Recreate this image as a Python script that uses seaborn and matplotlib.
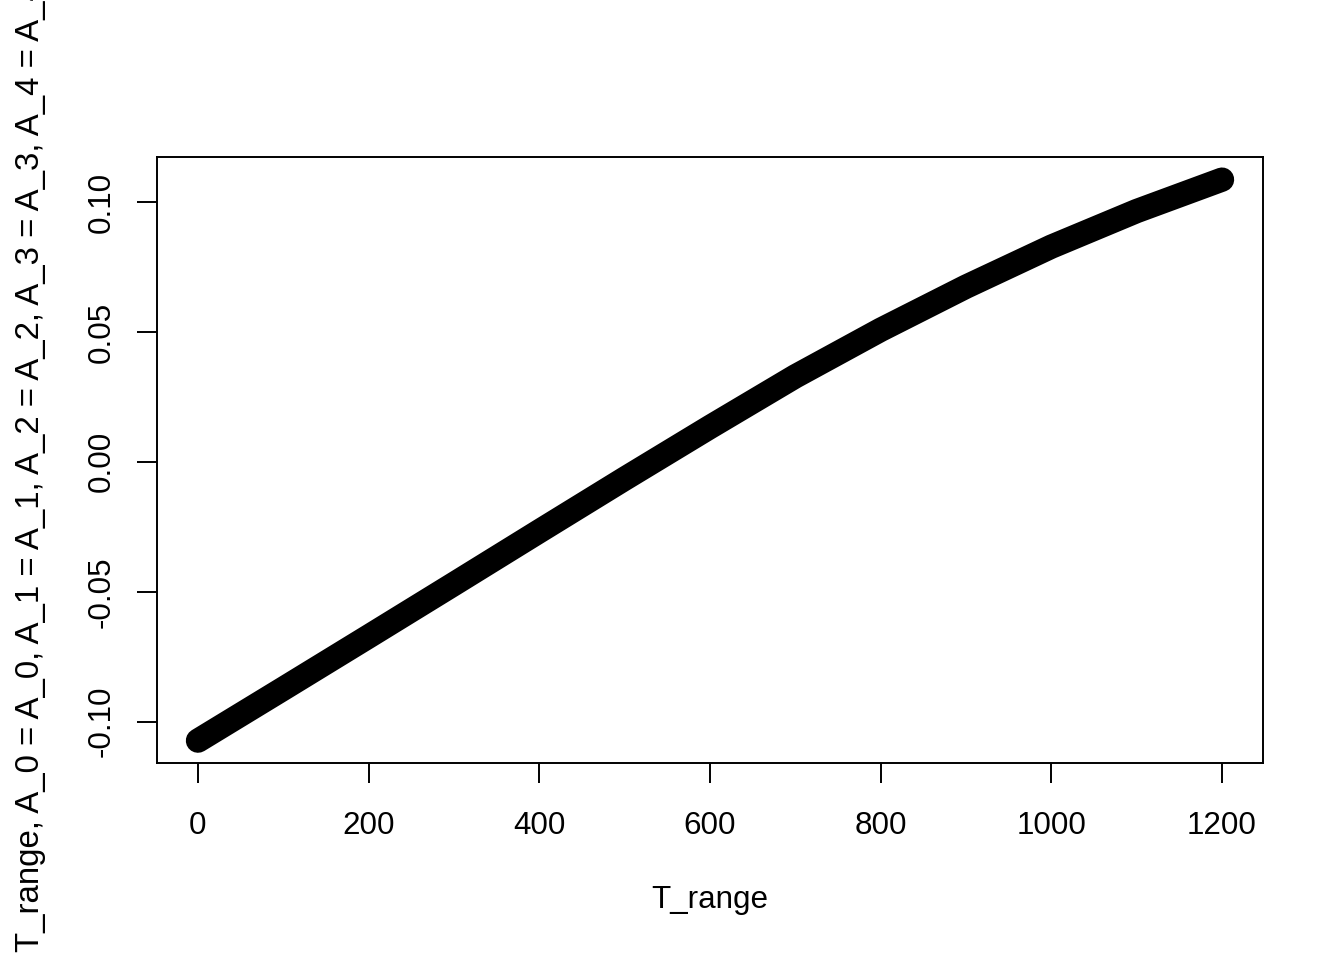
import matplotlib
matplotlib.use("Agg")
import matplotlib.pyplot as plt
import seaborn as sns
import pandas as pd

# values
t_range = [0, 100, 200, 300, 400, 500, 600, 700, 800, 900, 1000, 1100, 1200]
f_values = [-0.1073, -0.0873, -0.0672, -0.0470, -0.0267, -0.0065, 0.0134,
            0.0329, 0.0508, 0.0674, 0.0828, 0.0965, 0.1086]
x_ticks = [0, 200, 400, 600, 800, 1000, 1200]
y_ticks = [-0.10, -0.05, 0.00, 0.05, 0.10]
y_tick_labels = ["-0.10", "-0.05", "0.00", "0.05", "0.10"]

x_label = "T_range"
y_label = "T_range, A_0 = A_0, A_1 = A_1, A_2 = A_2, A_3 = A_3, A_4 = A_4"

sns.set_style("white")
plt.rcParams["font.family"] = ["Liberation Sans", "DejaVu Sans"]
plt.rcParams["text.color"] = "black"
plt.rcParams["axes.labelcolor"] = "black"
plt.rcParams["xtick.color"] = "black"
plt.rcParams["ytick.color"] = "black"
fs = 22.6

df = pd.DataFrame({"T_range": t_range, "f": f_values})

fig = plt.figure(figsize=(13.44, 9.6), dpi=100)
ax = fig.add_axes([157 / 1344, 1 - 763 / 960, 1106 / 1344, 606 / 960])

sns.lineplot(data=df, x="T_range", y="f", ax=ax, color="black",
             linewidth=17.5, solid_capstyle="round", solid_joinstyle="round")

ax.set_xlim(-48, 1248)
ax.set_ylim(-0.1159, 0.1173)

for s in ax.spines.values():
    s.set_visible(True)
    s.set_color("black")
    s.set_linewidth(1.4)

ax.set_xticks(x_ticks)
ax.set_xticklabels([str(v) for v in x_ticks], fontsize=fs)
ax.set_yticks(y_ticks)
ax.set_yticklabels(y_tick_labels, fontsize=fs, rotation=90, ha="center", va="center")
ax.tick_params(axis="both", direction="out", length=14.4, width=1.4, color="black",
               labelcolor="black", bottom=True, left=True)
ax.tick_params(axis="x", pad=20)
ax.tick_params(axis="y", pad=25.5)

ax.set_xlabel(x_label, fontsize=fs, va="center")
ax.xaxis.set_label_coords(0.5, -(900 - 763) / 606)
# the long label runs past the figure edge, as in the reference
ax.set_ylabel(y_label, fontsize=23.8, va="center")
ax.yaxis.set_label_coords(-(157 - 31) / 1106, (763 - 467) / 606)

fig.savefig("out.png", dpi=100)
